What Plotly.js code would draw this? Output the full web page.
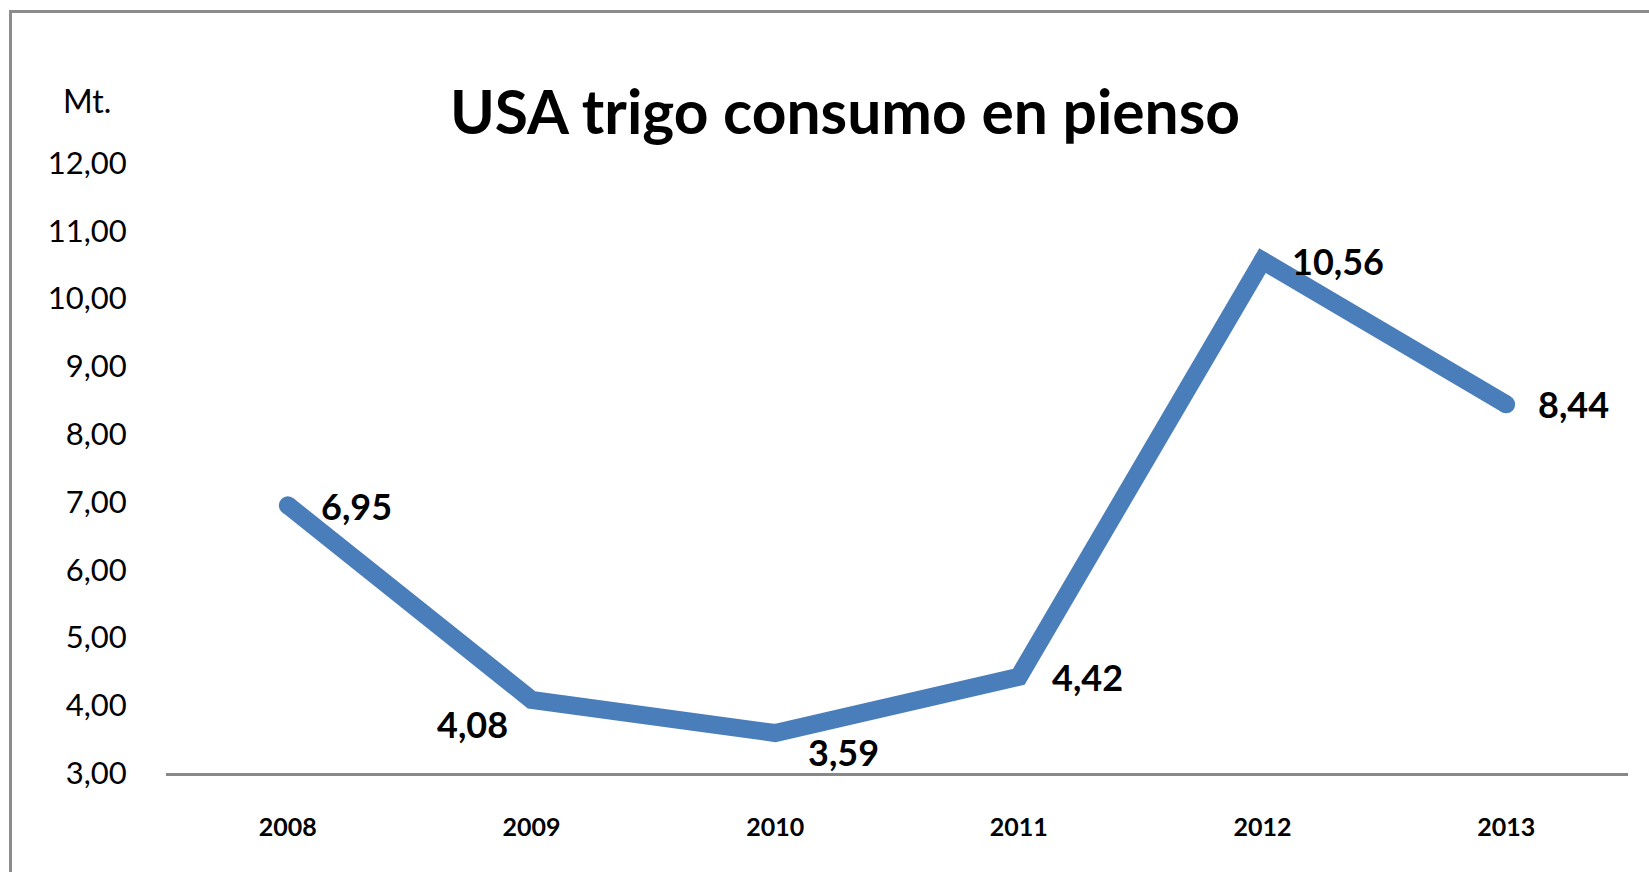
<!DOCTYPE html>
<html>
<head>
<meta charset="utf-8">
<script src="https://cdn.plot.ly/plotly-3.0.1.min.js"></script>
<style>
  html, body { margin: 0; padding: 0; background: #ffffff; }
  #chart { width: 1649px; height: 872px; }
</style>
</head>
<body>
<div id="chart"></div>
<script>
// ---- data ----
const years = ['2008', '2009', '2010', '2011', '2012', '2013'];
const feedUse = [6.95, 4.08, 3.59, 4.42, 10.56, 8.44];
const yTicks = [3, 4, 5, 6, 7, 8, 9, 10, 11, 12];
const chartTitle = 'USA trigo consumo en pienso';
const unitLabel = 'Mt.';

// label placement (styling only)
const labelAnchor = ['left', 'right', 'left', 'left', 'left', 'left'];
const labelXShift = [31, -22, 31, 31, 27, 30];
const labelYShift = [-1, -24, -19, 0, 0, 0];
// round caps / rounded peak (styling only)
const capSize = [18, 0, 0, 0, 18, 18];

const fmt = v => v.toFixed(2).replace('.', ',');

const FONT = 'Lato, "Open Sans", sans-serif';

const trace = {
  type: 'scatter',
  mode: 'lines+markers',
  x: years,
  y: feedUse,
  line: { color: '#4a7ebb', width: 18 },
  marker: { color: '#4a7ebb', size: capSize, opacity: 1, line: { width: 0 } },
  hoverinfo: 'x+y'
};

const annotations = years.map((yr, i) => ({
  x: i, y: feedUse[i], xref: 'x', yref: 'y',
  text: fmt(feedUse[i]),
  showarrow: false,
  xanchor: labelAnchor[i], yanchor: 'middle',
  xshift: labelXShift[i], yshift: labelYShift[i],
  font: { family: FONT, size: 36, color: '#000000', weight: 'bold' }
}));

annotations.push({
  x: -0.054, y: 1.103, xref: 'paper', yref: 'paper',
  text: unitLabel, showarrow: false,
  xanchor: 'center', yanchor: 'middle',
  font: { family: FONT, size: 32, color: '#000000' }
});

const layout = {
  width: 1649, height: 872,
  margin: { l: 166, r: 21, t: 163, b: 99, pad: 0 },
  paper_bgcolor: '#ffffff', plot_bgcolor: '#ffffff',
  separators: ',.',
  showlegend: false,
  title: {
    text: chartTitle,
    x: 845 / 1649, xanchor: 'center', xref: 'container',
    y: 1 - 113 / 872, yanchor: 'middle', yref: 'container',
    font: { family: FONT, size: 60.5, color: '#000000', weight: 'bold' }
  },
  xaxis: {
    type: 'category',
    range: [-0.5, 5.5],
    showgrid: false, zeroline: false,
    showline: true, linecolor: '#888888', linewidth: 3,
    ticks: 'outside', ticklen: 30, tickcolor: 'rgba(0,0,0,0)',
    tickfont: { family: FONT, size: 25, color: '#000000', weight: 'bold' },
    fixedrange: true
  },
  yaxis: {
    range: [3, 12],
    tickmode: 'array', tickvals: yTicks,
    tickformat: '.2f',
    showgrid: false, zeroline: false, showline: false,
    ticks: 'outside', ticklen: 32, tickcolor: 'rgba(0,0,0,0)',
    tickfont: { family: FONT, size: 31, color: '#000000' },
    fixedrange: true
  },
  annotations: annotations,
  shapes: [{
    type: 'rect', xref: 'paper', yref: 'paper',
    x0: (10.5 - 166) / 1462, x1: 1.2,
    y0: -0.3, y1: (773 - 11.5) / 610,
    line: { color: '#8c8c8c', width: 3 },
    fillcolor: 'rgba(0,0,0,0)', layer: 'below'
  }]
};

Plotly.newPlot('chart', [trace], layout, { displayModeBar: false, responsive: false });
</script>
</body>
</html>
